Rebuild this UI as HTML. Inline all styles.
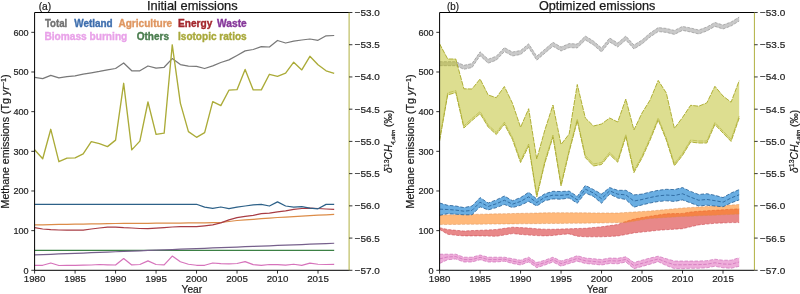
<!DOCTYPE html><html><head><meta charset="utf-8"><style>html,body{margin:0;padding:0;background:#fff;}svg{display:block;filter:blur(0.3px);}text{font-family:"Liberation Sans",sans-serif;}</style></head><body>
<svg width="800" height="294" viewBox="0 0 800 294">
<rect width="800" height="294" fill="#fff"/>
<polyline points="34.60,250.30 42.70,250.30 50.79,250.30 58.89,250.30 66.99,250.30 75.09,250.30 83.18,250.30 91.28,250.30 99.38,250.30 107.47,250.30 115.57,250.30 123.67,250.30 131.76,250.30 139.86,250.30 147.96,250.30 156.06,250.30 164.15,250.30 172.25,250.30 180.35,250.30 188.44,250.30 196.54,250.30 204.64,250.30 212.73,250.30 220.83,250.30 228.93,250.30 237.02,250.30 245.12,250.30 253.22,250.30 261.32,250.30 269.41,250.30 277.51,250.30 285.61,250.30 293.70,250.30 301.80,250.30 309.90,250.30 318.00,250.30 326.09,250.30 334.19,250.30" fill="none" stroke="#3b8044" stroke-width="1.25" stroke-linejoin="round" />
<polyline points="34.60,254.90 42.70,254.59 50.79,254.27 58.89,253.96 66.99,253.64 75.09,253.33 83.18,253.01 91.28,252.70 99.38,252.38 107.47,252.07 115.57,251.75 123.67,251.44 131.76,251.12 139.86,250.81 147.96,250.49 156.06,250.18 164.15,249.86 172.25,249.55 180.35,249.23 188.44,248.92 196.54,248.60 204.64,248.29 212.73,247.97 220.83,247.66 228.93,247.34 237.02,247.03 245.12,246.71 253.22,246.40 261.32,246.08 269.41,245.77 277.51,245.45 285.61,245.14 293.70,244.82 301.80,244.51 309.90,244.19 318.00,243.88 326.09,243.56 334.19,243.25" fill="none" stroke="#76608c" stroke-width="1.25" stroke-linejoin="round" />
<polyline points="34.60,265.25 42.70,265.25 50.79,263.00 58.89,265.50 66.99,265.30 75.09,265.30 83.18,265.20 91.28,265.00 99.38,264.50 107.47,264.80 115.57,265.00 123.67,258.60 131.76,264.90 139.86,264.50 147.96,260.90 156.06,264.50 164.15,264.90 172.25,256.10 180.35,261.75 188.44,264.25 196.54,265.25 204.64,265.25 212.73,263.00 220.83,263.60 228.93,263.80 237.02,263.50 245.12,261.70 253.22,264.70 261.32,265.30 269.41,264.50 277.51,264.70 285.61,265.10 293.70,264.25 301.80,265.30 309.90,263.20 318.00,264.25 326.09,264.50 334.19,264.40" fill="none" stroke="#d673bb" stroke-width="1.25" stroke-linejoin="round" />
<polyline points="34.60,224.90 42.70,224.76 50.79,224.62 58.89,224.48 66.99,224.34 75.09,224.20 83.18,224.06 91.28,223.92 99.38,223.78 107.47,223.64 115.57,223.50 123.67,223.44 131.76,223.38 139.86,223.32 147.96,223.26 156.06,223.20 164.15,223.14 172.25,223.08 180.35,223.02 188.44,222.96 196.54,222.90 204.64,222.77 212.73,222.63 220.83,222.50 228.93,221.50 237.02,220.50 245.12,219.90 253.22,219.30 261.32,218.70 269.41,218.10 277.51,217.50 285.61,217.04 293.70,216.59 301.80,216.13 309.90,215.67 318.00,215.21 326.09,214.76 334.19,214.30" fill="none" stroke="#dc8c48" stroke-width="1.25" stroke-linejoin="round" />
<polyline points="34.60,227.70 42.70,229.00 50.79,229.70 58.89,230.00 66.99,230.10 75.09,230.10 83.18,230.10 91.28,229.00 99.38,228.00 107.47,227.20 115.57,227.10 123.67,227.70 131.76,228.00 139.86,228.50 147.96,228.70 156.06,228.20 164.15,227.60 172.25,227.00 180.35,226.60 188.44,226.60 196.54,226.60 204.64,225.80 212.73,224.90 220.83,222.90 228.93,219.80 237.02,217.70 245.12,216.30 253.22,215.40 261.32,213.60 269.41,213.20 277.51,211.80 285.61,210.80 293.70,209.40 301.80,208.50 309.90,208.10 318.00,208.50 326.09,209.00 334.19,209.40" fill="none" stroke="#a83c44" stroke-width="1.25" stroke-linejoin="round" />
<polyline points="34.60,204.25 42.70,204.25 50.79,204.25 58.89,204.25 66.99,204.25 75.09,204.25 83.18,204.25 91.28,204.25 99.38,204.25 107.47,204.25 115.57,204.25 123.67,204.25 131.76,204.25 139.86,204.25 147.96,204.25 156.06,204.25 164.15,204.25 172.25,204.25 180.35,204.25 188.44,204.25 196.54,204.25 204.64,207.20 212.73,208.30 220.83,207.00 228.93,208.60 237.02,207.10 245.12,206.00 253.22,204.90 261.32,204.40 269.41,206.00 277.51,201.90 285.61,206.00 293.70,207.10 301.80,206.70 309.90,208.10 318.00,208.80 326.09,204.40 334.19,204.40" fill="none" stroke="#2d6188" stroke-width="1.25" stroke-linejoin="round" />
<polyline points="34.60,77.40 42.70,78.60 50.79,75.40 58.89,77.80 66.99,76.60 75.09,75.80 83.18,74.20 91.28,72.80 99.38,71.40 107.47,69.80 115.57,68.50 123.67,63.00 131.76,70.80 139.86,70.80 147.96,66.00 156.06,68.20 164.15,67.30 172.25,58.60 180.35,64.60 188.44,66.10 196.54,66.40 204.64,68.50 212.73,65.90 220.83,62.50 228.93,59.90 237.02,55.50 245.12,50.90 253.22,49.50 261.32,46.60 269.41,47.00 277.51,40.50 285.61,43.00 293.70,41.20 301.80,40.00 309.90,39.00 318.00,40.30 326.09,35.80 334.19,35.50" fill="none" stroke="#787878" stroke-width="1.25" stroke-linejoin="round" />
<polyline points="34.60,149.70 42.70,158.80 50.79,129.30 58.89,161.70 66.99,158.20 75.09,157.90 83.18,153.80 91.28,141.60 99.38,143.60 107.47,146.60 115.57,140.10 123.67,83.30 131.76,149.90 139.86,141.10 147.96,102.00 156.06,134.30 164.15,133.20 172.25,44.80 180.35,103.10 188.44,131.60 196.54,137.30 204.64,132.70 212.73,101.60 220.83,105.60 228.93,90.20 237.02,89.70 245.12,69.50 253.22,89.90 261.32,89.90 269.41,74.30 277.51,76.30 285.61,73.10 293.70,62.20 301.80,69.90 309.90,56.30 318.00,64.80 326.09,70.80 334.19,73.30" fill="none" stroke="#abab38" stroke-width="1.35" stroke-linejoin="round" />
<polygon points="439.60,254.20 447.70,254.20 455.79,254.20 463.89,257.20 471.99,257.20 480.09,255.00 488.18,257.20 496.28,257.20 504.38,257.20 512.47,258.70 520.57,260.20 528.67,257.20 536.76,262.50 544.86,260.20 552.96,257.20 561.06,261.00 569.15,258.70 577.25,255.70 585.35,258.00 593.44,258.70 601.54,259.50 609.64,258.00 617.73,258.30 625.83,256.80 633.93,262.50 642.02,260.20 650.12,258.00 658.22,256.20 666.32,258.70 674.41,261.00 682.51,261.00 690.61,261.00 698.70,261.00 706.80,260.70 714.90,259.20 723.00,260.20 731.09,260.20 739.19,257.70 739.19,266.30 731.09,268.30 723.00,267.80 714.90,266.30 706.80,267.80 698.70,268.30 690.61,268.30 682.51,268.60 674.41,268.60 666.32,265.60 658.22,261.70 650.12,264.20 642.02,266.50 633.93,268.70 625.83,262.00 617.73,263.80 609.64,263.50 601.54,265.00 593.44,264.20 585.35,263.50 577.25,261.20 569.15,263.50 561.06,266.20 552.96,262.00 544.86,265.00 536.76,267.70 528.67,262.00 520.57,265.00 512.47,263.50 504.38,261.20 496.28,262.00 488.18,262.00 480.09,259.70 471.99,262.00 463.89,262.00 455.79,259.00 447.70,259.70 439.60,263.50" fill="#e377c2" fill-opacity="0.6" stroke="none"/>
<polyline points="439.60,254.20 447.70,254.20 455.79,254.20 463.89,257.20 471.99,257.20 480.09,255.00 488.18,257.20 496.28,257.20 504.38,257.20 512.47,258.70 520.57,260.20 528.67,257.20 536.76,262.50 544.86,260.20 552.96,257.20 561.06,261.00 569.15,258.70 577.25,255.70 585.35,258.00 593.44,258.70 601.54,259.50 609.64,258.00 617.73,258.30 625.83,256.80 633.93,262.50 642.02,260.20 650.12,258.00 658.22,256.20 666.32,258.70 674.41,261.00 682.51,261.00 690.61,261.00 698.70,261.00 706.80,260.70 714.90,259.20 723.00,260.20 731.09,260.20 739.19,257.70" fill="none" stroke="#c860b0" stroke-opacity="0.75" stroke-width="0.8" stroke-dasharray="3.5,1.5"/>
<polyline points="439.60,263.50 447.70,259.70 455.79,259.00 463.89,262.00 471.99,262.00 480.09,259.70 488.18,262.00 496.28,262.00 504.38,261.20 512.47,263.50 520.57,265.00 528.67,262.00 536.76,267.70 544.86,265.00 552.96,262.00 561.06,266.20 569.15,263.50 577.25,261.20 585.35,263.50 593.44,264.20 601.54,265.00 609.64,263.50 617.73,263.80 625.83,262.00 633.93,268.70 642.02,266.50 650.12,264.20 658.22,261.70 666.32,265.60 674.41,268.60 682.51,268.60 690.61,268.30 698.70,268.30 706.80,267.80 714.90,266.30 723.00,267.80 731.09,268.30 739.19,266.30" fill="none" stroke="#c860b0" stroke-opacity="0.75" stroke-width="0.8" stroke-dasharray="3.5,1.5"/>
<polyline points="439.60,258.85 447.70,256.95 455.79,256.60 463.89,259.60 471.99,259.60 480.09,257.35 488.18,259.60 496.28,259.60 504.38,259.20 512.47,261.10 520.57,262.60 528.67,259.60 536.76,265.10 544.86,262.60 552.96,259.60 561.06,263.60 569.15,261.10 577.25,258.45 585.35,260.75 593.44,261.45 601.54,262.25 609.64,260.75 617.73,261.05 625.83,259.40 633.93,265.60 642.02,263.35 650.12,261.10 658.22,258.95 666.32,262.15 674.41,264.80 682.51,264.80 690.61,264.65 698.70,264.65 706.80,264.25 714.90,262.75 723.00,264.00 731.09,264.25 739.19,262.00" fill="none" stroke="#c860b0" stroke-opacity="0.75" stroke-width="0.8" stroke-dasharray="3.5,1.5"/>
<polygon points="439.60,227.70 447.70,229.50 455.79,230.30 463.89,231.00 471.99,230.60 480.09,230.30 488.18,229.90 496.28,229.50 504.38,228.30 512.47,227.20 520.57,227.60 528.67,228.00 536.76,228.80 544.86,229.20 552.96,229.30 561.06,229.00 569.15,228.80 577.25,228.50 585.35,228.30 593.44,227.50 601.54,226.80 609.64,225.60 617.73,224.50 625.83,221.40 633.93,219.10 642.02,217.60 650.12,216.20 658.22,215.00 666.32,213.80 674.41,213.60 682.51,213.40 690.61,212.00 698.70,211.30 706.80,210.80 714.90,210.30 723.00,209.80 731.09,209.20 739.19,208.80 739.19,222.60 731.09,222.60 723.00,223.00 714.90,223.30 706.80,224.10 698.70,224.90 690.61,226.80 682.51,228.70 674.41,229.20 666.32,229.70 658.22,230.30 650.12,231.20 642.02,232.10 633.93,232.90 625.83,234.50 617.73,236.00 609.64,236.40 601.54,236.80 593.44,236.80 585.35,236.80 577.25,236.20 569.15,233.90 561.06,234.50 552.96,235.50 544.86,235.90 536.76,235.60 528.67,235.10 520.57,234.40 512.47,233.60 504.38,235.00 496.28,236.30 488.18,236.10 480.09,235.90 471.99,235.90 463.89,235.90 455.79,235.30 447.70,234.30 439.60,229.50" fill="#d62728" fill-opacity="0.55" stroke="none"/>
<polyline points="439.60,227.70 447.70,229.50 455.79,230.30 463.89,231.00 471.99,230.60 480.09,230.30 488.18,229.90 496.28,229.50 504.38,228.30 512.47,227.20 520.57,227.60 528.67,228.00 536.76,228.80 544.86,229.20 552.96,229.30 561.06,229.00 569.15,228.80 577.25,228.50 585.35,228.30 593.44,227.50 601.54,226.80 609.64,225.60 617.73,224.50 625.83,221.40 633.93,219.10 642.02,217.60 650.12,216.20 658.22,215.00 666.32,213.80 674.41,213.60 682.51,213.40 690.61,212.00 698.70,211.30 706.80,210.80 714.90,210.30 723.00,209.80 731.09,209.20 739.19,208.80" fill="none" stroke="#c84048" stroke-opacity="0.6" stroke-width="0.9" stroke-dasharray="3,1.5"/>
<polyline points="439.60,229.50 447.70,234.30 455.79,235.30 463.89,235.90 471.99,235.90 480.09,235.90 488.18,236.10 496.28,236.30 504.38,235.00 512.47,233.60 520.57,234.40 528.67,235.10 536.76,235.60 544.86,235.90 552.96,235.50 561.06,234.50 569.15,233.90 577.25,236.20 585.35,236.80 593.44,236.80 601.54,236.80 609.64,236.40 617.73,236.00 625.83,234.50 633.93,232.90 642.02,232.10 650.12,231.20 658.22,230.30 666.32,229.70 674.41,229.20 682.51,228.70 690.61,226.80 698.70,224.90 706.80,224.10 714.90,223.30 723.00,223.00 731.09,222.60 739.19,222.60" fill="none" stroke="#c84048" stroke-opacity="0.6" stroke-width="0.9" stroke-dasharray="3,1.5"/>
<polygon points="439.60,215.00 447.70,214.84 455.79,214.67 463.89,214.51 471.99,214.34 480.09,214.18 488.18,214.01 496.28,213.85 504.38,213.69 512.47,213.52 520.57,213.36 528.67,213.19 536.76,213.03 544.86,212.86 552.96,212.70 561.06,212.74 569.15,212.77 577.25,212.81 585.35,212.85 593.44,212.89 601.54,212.93 609.64,212.96 617.73,213.00 625.83,212.50 633.93,212.00 642.02,211.50 650.12,211.00 658.22,210.25 666.32,209.50 674.41,208.75 682.51,208.00 690.61,207.50 698.70,207.00 706.80,206.50 714.90,206.00 723.00,205.50 731.09,205.00 739.19,204.50 739.19,214.10 731.09,214.44 723.00,214.79 714.90,215.13 706.80,215.47 698.70,215.81 690.61,216.16 682.51,216.50 674.41,217.00 666.32,217.50 658.22,218.00 650.12,218.50 642.02,219.83 633.93,221.17 625.83,222.50 617.73,222.67 609.64,222.83 601.54,223.00 593.44,223.08 585.35,223.16 577.25,223.24 569.15,223.32 561.06,223.40 552.96,223.48 544.86,223.56 536.76,223.64 528.67,223.72 520.57,223.80 512.47,223.88 504.38,223.96 496.28,224.04 488.18,224.12 480.09,224.20 471.99,224.28 463.89,224.36 455.79,224.44 447.70,224.52 439.60,224.60" fill="#ff7f0e" fill-opacity="0.55" stroke="none"/>
<polyline points="439.60,215.00 447.70,214.84 455.79,214.67 463.89,214.51 471.99,214.34 480.09,214.18 488.18,214.01 496.28,213.85 504.38,213.69 512.47,213.52 520.57,213.36 528.67,213.19 536.76,213.03 544.86,212.86 552.96,212.70 561.06,212.74 569.15,212.77 577.25,212.81 585.35,212.85 593.44,212.89 601.54,212.93 609.64,212.96 617.73,213.00 625.83,212.50 633.93,212.00 642.02,211.50 650.12,211.00 658.22,210.25 666.32,209.50 674.41,208.75 682.51,208.00 690.61,207.50 698.70,207.00 706.80,206.50 714.90,206.00 723.00,205.50 731.09,205.00 739.19,204.50" fill="none" stroke="#d88a50" stroke-opacity="0.5" stroke-width="0.9" stroke-dasharray="3,1.5"/>
<polyline points="439.60,224.60 447.70,224.52 455.79,224.44 463.89,224.36 471.99,224.28 480.09,224.20 488.18,224.12 496.28,224.04 504.38,223.96 512.47,223.88 520.57,223.80 528.67,223.72 536.76,223.64 544.86,223.56 552.96,223.48 561.06,223.40 569.15,223.32 577.25,223.24 585.35,223.16 593.44,223.08 601.54,223.00 609.64,222.83 617.73,222.67 625.83,222.50 633.93,221.17 642.02,219.83 650.12,218.50 658.22,218.00 666.32,217.50 674.41,217.00 682.51,216.50 690.61,216.16 698.70,215.81 706.80,215.47 714.90,215.13 723.00,214.79 731.09,214.44 739.19,214.10" fill="none" stroke="#d88a50" stroke-opacity="0.5" stroke-width="0.9" stroke-dasharray="3,1.5"/>
<polygon points="439.60,203.00 447.70,205.30 455.79,206.00 463.89,207.60 471.99,206.00 480.09,197.60 488.18,203.00 496.28,199.90 504.38,196.00 512.47,200.70 520.57,197.60 528.67,192.30 536.76,199.00 544.86,193.80 552.96,191.30 561.06,191.50 569.15,191.10 577.25,196.40 585.35,185.40 593.44,189.50 601.54,194.10 609.64,187.60 617.73,190.30 625.83,190.30 633.93,194.90 642.02,194.10 650.12,192.00 658.22,190.30 666.32,189.30 674.41,189.60 682.51,187.60 690.61,191.40 698.70,194.50 706.80,193.70 714.90,195.30 723.00,197.60 731.09,193.00 739.19,189.60 739.19,199.90 731.09,202.90 723.00,206.80 714.90,206.00 706.80,205.20 698.70,206.00 690.61,202.90 682.51,199.90 674.41,201.40 666.32,200.80 658.22,201.50 650.12,203.00 642.02,204.90 633.93,207.20 625.83,199.50 617.73,198.00 609.64,194.10 601.54,203.30 593.44,196.40 585.35,193.00 577.25,203.30 569.15,198.00 561.06,199.20 552.96,198.90 544.86,200.70 536.76,206.00 528.67,201.40 520.57,205.30 512.47,207.60 504.38,204.50 496.28,207.60 488.18,209.90 480.09,206.80 471.99,214.80 463.89,214.80 455.79,214.20 447.70,213.70 439.60,215.30" fill="#6aaee2" fill-opacity="1.0" stroke="none"/>
<polyline points="439.60,203.00 447.70,205.30 455.79,206.00 463.89,207.60 471.99,206.00 480.09,197.60 488.18,203.00 496.28,199.90 504.38,196.00 512.47,200.70 520.57,197.60 528.67,192.30 536.76,199.00 544.86,193.80 552.96,191.30 561.06,191.50 569.15,191.10 577.25,196.40 585.35,185.40 593.44,189.50 601.54,194.10 609.64,187.60 617.73,190.30 625.83,190.30 633.93,194.90 642.02,194.10 650.12,192.00 658.22,190.30 666.32,189.30 674.41,189.60 682.51,187.60 690.61,191.40 698.70,194.50 706.80,193.70 714.90,195.30 723.00,197.60 731.09,193.00 739.19,189.60" fill="none" stroke="#1f5a90" stroke-opacity="0.85" stroke-width="0.9" stroke-dasharray="3.5,1.8"/>
<polyline points="439.60,215.30 447.70,213.70 455.79,214.20 463.89,214.80 471.99,214.80 480.09,206.80 488.18,209.90 496.28,207.60 504.38,204.50 512.47,207.60 520.57,205.30 528.67,201.40 536.76,206.00 544.86,200.70 552.96,198.90 561.06,199.20 569.15,198.00 577.25,203.30 585.35,193.00 593.44,196.40 601.54,203.30 609.64,194.10 617.73,198.00 625.83,199.50 633.93,207.20 642.02,204.90 650.12,203.00 658.22,201.50 666.32,200.80 674.41,201.40 682.51,199.90 690.61,202.90 698.70,206.00 706.80,205.20 714.90,206.00 723.00,206.80 731.09,202.90 739.19,199.90" fill="none" stroke="#1f5a90" stroke-opacity="0.85" stroke-width="0.9" stroke-dasharray="3.5,1.8"/>
<polyline points="439.60,209.15 447.70,209.50 455.79,210.10 463.89,211.20 471.99,210.40 480.09,202.20 488.18,206.45 496.28,203.75 504.38,200.25 512.47,204.15 520.57,201.45 528.67,196.85 536.76,202.50 544.86,197.25 552.96,195.10 561.06,195.35 569.15,194.55 577.25,199.85 585.35,189.20 593.44,192.95 601.54,198.70 609.64,190.85 617.73,194.15 625.83,194.90 633.93,201.05 642.02,199.50 650.12,197.50 658.22,195.90 666.32,195.05 674.41,195.50 682.51,193.75 690.61,197.15 698.70,200.25 706.80,199.45 714.90,200.65 723.00,202.20 731.09,197.95 739.19,194.75" fill="none" stroke="#1f5a90" stroke-opacity="0.85" stroke-width="0.9" stroke-dasharray="3.5,1.8"/>
<polygon points="439.60,61.70 447.70,61.70 455.79,61.70 463.89,65.30 471.99,63.60 480.09,51.80 488.18,59.20 496.28,56.20 504.38,47.60 512.47,52.00 520.57,50.50 528.67,43.80 536.76,56.20 544.86,49.20 552.96,42.30 561.06,47.00 569.15,43.60 577.25,44.00 585.35,36.00 593.44,41.00 601.54,48.00 609.64,38.00 617.73,43.00 625.83,36.00 633.93,45.00 642.02,40.00 650.12,33.00 658.22,27.60 666.32,28.40 674.41,30.40 682.51,26.40 690.61,28.00 698.70,30.00 706.80,27.00 714.90,22.40 723.00,25.00 731.09,22.00 739.19,17.00 739.19,21.00 731.09,26.00 723.00,29.00 714.90,26.40 706.80,31.00 698.70,34.00 690.61,32.00 682.51,30.40 674.41,34.40 666.32,32.40 658.22,31.60 650.12,37.00 642.02,44.00 633.93,49.00 625.83,40.00 617.73,47.00 609.64,42.00 601.54,52.00 593.44,45.00 585.35,40.00 577.25,48.00 569.15,47.60 561.06,51.00 552.96,46.30 544.86,53.20 536.76,60.20 528.67,47.80 520.57,54.50 512.47,56.00 504.38,51.60 496.28,60.20 488.18,63.20 480.09,55.80 471.99,67.60 463.89,69.30 455.79,65.70 447.70,65.70 439.60,65.70" fill="#7f7f7f" fill-opacity="0.42" stroke="none"/>
<polyline points="439.60,61.70 447.70,61.70 455.79,61.70 463.89,65.30 471.99,63.60 480.09,51.80 488.18,59.20 496.28,56.20 504.38,47.60 512.47,52.00 520.57,50.50 528.67,43.80 536.76,56.20 544.86,49.20 552.96,42.30 561.06,47.00 569.15,43.60 577.25,44.00 585.35,36.00 593.44,41.00 601.54,48.00 609.64,38.00 617.73,43.00 625.83,36.00 633.93,45.00 642.02,40.00 650.12,33.00 658.22,27.60 666.32,28.40 674.41,30.40 682.51,26.40 690.61,28.00 698.70,30.00 706.80,27.00 714.90,22.40 723.00,25.00 731.09,22.00 739.19,17.00" fill="none" stroke="#7f7f7f" stroke-opacity="0.6" stroke-width="0.9" stroke-dasharray="3,1.2"/>
<polyline points="439.60,65.70 447.70,65.70 455.79,65.70 463.89,69.30 471.99,67.60 480.09,55.80 488.18,63.20 496.28,60.20 504.38,51.60 512.47,56.00 520.57,54.50 528.67,47.80 536.76,60.20 544.86,53.20 552.96,46.30 561.06,51.00 569.15,47.60 577.25,48.00 585.35,40.00 593.44,45.00 601.54,52.00 609.64,42.00 617.73,47.00 625.83,40.00 633.93,49.00 642.02,44.00 650.12,37.00 658.22,31.60 666.32,32.40 674.41,34.40 682.51,30.40 690.61,32.00 698.70,34.00 706.80,31.00 714.90,26.40 723.00,29.00 731.09,26.00 739.19,21.00" fill="none" stroke="#7f7f7f" stroke-opacity="0.6" stroke-width="0.9" stroke-dasharray="3,1.2"/>
<polygon points="439.60,43.80 447.70,59.00 455.79,59.00 463.89,88.80 471.99,89.00 480.09,79.00 488.18,95.00 496.28,97.70 504.38,86.50 512.47,103.30 520.57,127.30 528.67,108.70 536.76,159.00 544.86,130.00 552.96,105.00 561.06,144.50 569.15,134.00 577.25,84.50 585.35,118.00 593.44,126.00 601.54,124.00 609.64,118.00 617.73,122.00 625.83,99.00 633.93,130.00 642.02,113.00 650.12,100.00 658.22,80.40 666.32,93.00 674.41,128.40 682.51,117.50 690.61,105.30 698.70,106.20 706.80,102.90 714.90,86.30 723.00,96.00 731.09,102.20 739.19,80.70 739.19,118.00 731.09,141.40 723.00,133.00 714.90,124.50 706.80,143.00 698.70,143.00 690.61,142.00 682.51,155.40 674.41,165.70 666.32,140.00 658.22,120.00 650.12,140.00 642.02,158.00 633.93,172.60 625.83,136.50 617.73,162.20 609.64,154.50 601.54,164.50 593.44,166.00 585.35,157.60 577.25,121.00 569.15,152.00 561.06,186.00 552.96,137.00 544.86,163.00 536.76,197.00 528.67,146.00 520.57,162.50 512.47,139.50 504.38,124.20 496.28,134.50 488.18,127.00 480.09,113.60 471.99,120.50 463.89,128.00 455.79,92.60 447.70,94.90 439.60,141.00" fill="#bcbd22" fill-opacity="0.5" stroke="none"/>
<polyline points="439.60,43.80 447.70,59.00 455.79,59.00 463.89,88.80 471.99,89.00 480.09,79.00 488.18,95.00 496.28,97.70 504.38,86.50 512.47,103.30 520.57,127.30 528.67,108.70 536.76,159.00 544.86,130.00 552.96,105.00 561.06,144.50 569.15,134.00 577.25,84.50 585.35,118.00 593.44,126.00 601.54,124.00 609.64,118.00 617.73,122.00 625.83,99.00 633.93,130.00 642.02,113.00 650.12,100.00 658.22,80.40 666.32,93.00 674.41,128.40 682.51,117.50 690.61,105.30 698.70,106.20 706.80,102.90 714.90,86.30 723.00,96.00 731.09,102.20 739.19,80.70" fill="none" stroke="#a8a828" stroke-opacity="0.9" stroke-width="1.0" stroke-dasharray="5,1"/>
<polyline points="439.60,141.00 447.70,94.90 455.79,92.60 463.89,128.00 471.99,120.50 480.09,113.60 488.18,127.00 496.28,134.50 504.38,124.20 512.47,139.50 520.57,162.50 528.67,146.00 536.76,197.00 544.86,163.00 552.96,137.00 561.06,186.00 569.15,152.00 577.25,121.00 585.35,157.60 593.44,166.00 601.54,164.50 609.64,154.50 617.73,162.20 625.83,136.50 633.93,172.60 642.02,158.00 650.12,140.00 658.22,120.00 666.32,140.00 674.41,165.70 682.51,155.40 690.61,142.00 698.70,143.00 706.80,143.00 714.90,124.50 723.00,133.00 731.09,141.40 739.19,118.00" fill="none" stroke="#a8a828" stroke-opacity="0.9" stroke-width="1.0" stroke-dasharray="5,1"/>
<polyline points="439.60,139.00 447.70,92.90 455.79,90.60 463.89,126.00 471.99,118.50 480.09,111.60 488.18,125.00 496.28,132.50 504.38,122.20 512.47,137.50 520.57,160.50 528.67,144.00 536.76,195.00 544.86,161.00 552.96,135.00 561.06,184.00 569.15,150.00 577.25,119.00 585.35,155.60 593.44,164.00 601.54,162.50 609.64,152.50 617.73,160.20 625.83,134.50 633.93,170.60 642.02,156.00 650.12,138.00 658.22,118.00 666.32,138.00 674.41,163.70 682.51,153.40 690.61,140.00 698.70,141.00 706.80,141.00 714.90,122.50 723.00,131.00 731.09,139.40 739.19,116.00" fill="none" stroke="#a8a828" stroke-opacity="0.5" stroke-width="1.0" stroke-dasharray="5,1"/>
<line x1="34.6" y1="12.5" x2="349.1" y2="12.5" stroke="#000" stroke-width="1"/>
<line x1="34.6" y1="270.3" x2="349.1" y2="270.3" stroke="#000" stroke-width="1"/>
<line x1="34.6" y1="12.5" x2="34.6" y2="270.3" stroke="#000" stroke-width="1"/>
<line x1="349.1" y1="12.5" x2="349.1" y2="270.3" stroke="#b0b040" stroke-width="1"/>
<line x1="34.60" y1="270.3" x2="34.60" y2="273.6" stroke="#000" stroke-width="0.8"/>
<text x="34.60" y="282.4" font-size="9.9" text-anchor="middle" fill="#222" stroke="#222" stroke-width="0.2" textLength="21.6" lengthAdjust="spacingAndGlyphs">1980</text>
<line x1="75.09" y1="270.3" x2="75.09" y2="273.6" stroke="#000" stroke-width="0.8"/>
<text x="75.09" y="282.4" font-size="9.9" text-anchor="middle" fill="#222" stroke="#222" stroke-width="0.2" textLength="21.6" lengthAdjust="spacingAndGlyphs">1985</text>
<line x1="115.57" y1="270.3" x2="115.57" y2="273.6" stroke="#000" stroke-width="0.8"/>
<text x="115.57" y="282.4" font-size="9.9" text-anchor="middle" fill="#222" stroke="#222" stroke-width="0.2" textLength="21.6" lengthAdjust="spacingAndGlyphs">1990</text>
<line x1="156.06" y1="270.3" x2="156.06" y2="273.6" stroke="#000" stroke-width="0.8"/>
<text x="156.06" y="282.4" font-size="9.9" text-anchor="middle" fill="#222" stroke="#222" stroke-width="0.2" textLength="21.6" lengthAdjust="spacingAndGlyphs">1995</text>
<line x1="196.54" y1="270.3" x2="196.54" y2="273.6" stroke="#000" stroke-width="0.8"/>
<text x="196.54" y="282.4" font-size="9.9" text-anchor="middle" fill="#222" stroke="#222" stroke-width="0.2" textLength="21.6" lengthAdjust="spacingAndGlyphs">2000</text>
<line x1="237.02" y1="270.3" x2="237.02" y2="273.6" stroke="#000" stroke-width="0.8"/>
<text x="237.02" y="282.4" font-size="9.9" text-anchor="middle" fill="#222" stroke="#222" stroke-width="0.2" textLength="21.6" lengthAdjust="spacingAndGlyphs">2005</text>
<line x1="277.51" y1="270.3" x2="277.51" y2="273.6" stroke="#000" stroke-width="0.8"/>
<text x="277.51" y="282.4" font-size="9.9" text-anchor="middle" fill="#222" stroke="#222" stroke-width="0.2" textLength="21.6" lengthAdjust="spacingAndGlyphs">2010</text>
<line x1="318.00" y1="270.3" x2="318.00" y2="273.6" stroke="#000" stroke-width="0.8"/>
<text x="318.00" y="282.4" font-size="9.9" text-anchor="middle" fill="#222" stroke="#222" stroke-width="0.2" textLength="21.6" lengthAdjust="spacingAndGlyphs">2015</text>
<line x1="31.3" y1="270.30" x2="34.6" y2="270.30" stroke="#000" stroke-width="0.8"/>
<text x="28.6" y="273.60" font-size="9.3" text-anchor="end" fill="#222" stroke="#222" stroke-width="0.2" textLength="5.05" lengthAdjust="spacingAndGlyphs">0</text>
<line x1="31.3" y1="230.64" x2="34.6" y2="230.64" stroke="#000" stroke-width="0.8"/>
<text x="28.6" y="233.94" font-size="9.3" text-anchor="end" fill="#222" stroke="#222" stroke-width="0.2" textLength="15.15" lengthAdjust="spacingAndGlyphs">100</text>
<line x1="31.3" y1="190.98" x2="34.6" y2="190.98" stroke="#000" stroke-width="0.8"/>
<text x="28.6" y="194.28" font-size="9.3" text-anchor="end" fill="#222" stroke="#222" stroke-width="0.2" textLength="15.15" lengthAdjust="spacingAndGlyphs">200</text>
<line x1="31.3" y1="151.32" x2="34.6" y2="151.32" stroke="#000" stroke-width="0.8"/>
<text x="28.6" y="154.62" font-size="9.3" text-anchor="end" fill="#222" stroke="#222" stroke-width="0.2" textLength="15.15" lengthAdjust="spacingAndGlyphs">300</text>
<line x1="31.3" y1="111.65" x2="34.6" y2="111.65" stroke="#000" stroke-width="0.8"/>
<text x="28.6" y="114.95" font-size="9.3" text-anchor="end" fill="#222" stroke="#222" stroke-width="0.2" textLength="15.15" lengthAdjust="spacingAndGlyphs">400</text>
<line x1="31.3" y1="71.99" x2="34.6" y2="71.99" stroke="#000" stroke-width="0.8"/>
<text x="28.6" y="75.29" font-size="9.3" text-anchor="end" fill="#222" stroke="#222" stroke-width="0.2" textLength="15.15" lengthAdjust="spacingAndGlyphs">500</text>
<line x1="31.3" y1="32.33" x2="34.6" y2="32.33" stroke="#000" stroke-width="0.8"/>
<text x="28.6" y="35.63" font-size="9.3" text-anchor="end" fill="#222" stroke="#222" stroke-width="0.2" textLength="15.15" lengthAdjust="spacingAndGlyphs">600</text>
<line x1="349.1" y1="12.50" x2="352.40000000000003" y2="12.50" stroke="#000" stroke-width="0.8"/>
<text x="354.70000000000005" y="16.00" font-size="9.9" fill="#222" stroke="#222" stroke-width="0.2" textLength="25.2" lengthAdjust="spacingAndGlyphs">−53.0</text>
<line x1="349.1" y1="44.73" x2="352.40000000000003" y2="44.73" stroke="#000" stroke-width="0.8"/>
<text x="354.70000000000005" y="48.23" font-size="9.9" fill="#222" stroke="#222" stroke-width="0.2" textLength="25.2" lengthAdjust="spacingAndGlyphs">−53.5</text>
<line x1="349.1" y1="76.95" x2="352.40000000000003" y2="76.95" stroke="#000" stroke-width="0.8"/>
<text x="354.70000000000005" y="80.45" font-size="9.9" fill="#222" stroke="#222" stroke-width="0.2" textLength="25.2" lengthAdjust="spacingAndGlyphs">−54.0</text>
<line x1="349.1" y1="109.18" x2="352.40000000000003" y2="109.18" stroke="#000" stroke-width="0.8"/>
<text x="354.70000000000005" y="112.68" font-size="9.9" fill="#222" stroke="#222" stroke-width="0.2" textLength="25.2" lengthAdjust="spacingAndGlyphs">−54.5</text>
<line x1="349.1" y1="141.40" x2="352.40000000000003" y2="141.40" stroke="#000" stroke-width="0.8"/>
<text x="354.70000000000005" y="144.90" font-size="9.9" fill="#222" stroke="#222" stroke-width="0.2" textLength="25.2" lengthAdjust="spacingAndGlyphs">−55.0</text>
<line x1="349.1" y1="173.62" x2="352.40000000000003" y2="173.62" stroke="#000" stroke-width="0.8"/>
<text x="354.70000000000005" y="177.12" font-size="9.9" fill="#222" stroke="#222" stroke-width="0.2" textLength="25.2" lengthAdjust="spacingAndGlyphs">−55.5</text>
<line x1="349.1" y1="205.85" x2="352.40000000000003" y2="205.85" stroke="#000" stroke-width="0.8"/>
<text x="354.70000000000005" y="209.35" font-size="9.9" fill="#222" stroke="#222" stroke-width="0.2" textLength="25.2" lengthAdjust="spacingAndGlyphs">−56.0</text>
<line x1="349.1" y1="238.08" x2="352.40000000000003" y2="238.08" stroke="#000" stroke-width="0.8"/>
<text x="354.70000000000005" y="241.58" font-size="9.9" fill="#222" stroke="#222" stroke-width="0.2" textLength="25.2" lengthAdjust="spacingAndGlyphs">−56.5</text>
<line x1="349.1" y1="270.30" x2="352.40000000000003" y2="270.30" stroke="#000" stroke-width="0.8"/>
<text x="354.70000000000005" y="273.80" font-size="9.9" fill="#222" stroke="#222" stroke-width="0.2" textLength="25.2" lengthAdjust="spacingAndGlyphs">−57.0</text>
<text x="191.85" y="292.5" font-size="10.2" text-anchor="middle" fill="#1a1a1a" stroke="#1a1a1a" stroke-width="0.2">Year</text>
<text transform="translate(9.400000000000002,141.4) rotate(-90)" font-size="10.2" text-anchor="middle" fill="#1a1a1a" stroke="#1a1a1a" stroke-width="0.2" textLength="134" lengthAdjust="spacingAndGlyphs">Methane emissions (Tg <tspan font-style="italic">yr</tspan><tspan font-size="7" dy="-3.5">−1</tspan><tspan dy="3.5">)</tspan></text>
<text transform="translate(392.40000000000003,141.4) rotate(-90)" font-size="10.2" text-anchor="middle" fill="#1a1a1a" stroke="#1a1a1a" stroke-width="0.2"><tspan font-style="italic">δ</tspan><tspan font-size="7" dy="-3.5">13</tspan><tspan font-style="italic" dy="3.5">CH</tspan><tspan font-size="6" dy="2.5" font-style="italic">4,atm</tspan><tspan dy="-2.5"> (‰)</tspan></text>
<line x1="439.6" y1="12.5" x2="754.4" y2="12.5" stroke="#000" stroke-width="1"/>
<line x1="439.6" y1="270.3" x2="754.4" y2="270.3" stroke="#000" stroke-width="1"/>
<line x1="439.6" y1="12.5" x2="439.6" y2="270.3" stroke="#000" stroke-width="1"/>
<line x1="754.4" y1="12.5" x2="754.4" y2="270.3" stroke="#b0b040" stroke-width="1"/>
<line x1="439.60" y1="270.3" x2="439.60" y2="273.6" stroke="#000" stroke-width="0.8"/>
<text x="439.60" y="282.4" font-size="9.9" text-anchor="middle" fill="#222" stroke="#222" stroke-width="0.2" textLength="21.6" lengthAdjust="spacingAndGlyphs">1980</text>
<line x1="480.09" y1="270.3" x2="480.09" y2="273.6" stroke="#000" stroke-width="0.8"/>
<text x="480.09" y="282.4" font-size="9.9" text-anchor="middle" fill="#222" stroke="#222" stroke-width="0.2" textLength="21.6" lengthAdjust="spacingAndGlyphs">1985</text>
<line x1="520.57" y1="270.3" x2="520.57" y2="273.6" stroke="#000" stroke-width="0.8"/>
<text x="520.57" y="282.4" font-size="9.9" text-anchor="middle" fill="#222" stroke="#222" stroke-width="0.2" textLength="21.6" lengthAdjust="spacingAndGlyphs">1990</text>
<line x1="561.06" y1="270.3" x2="561.06" y2="273.6" stroke="#000" stroke-width="0.8"/>
<text x="561.06" y="282.4" font-size="9.9" text-anchor="middle" fill="#222" stroke="#222" stroke-width="0.2" textLength="21.6" lengthAdjust="spacingAndGlyphs">1995</text>
<line x1="601.54" y1="270.3" x2="601.54" y2="273.6" stroke="#000" stroke-width="0.8"/>
<text x="601.54" y="282.4" font-size="9.9" text-anchor="middle" fill="#222" stroke="#222" stroke-width="0.2" textLength="21.6" lengthAdjust="spacingAndGlyphs">2000</text>
<line x1="642.02" y1="270.3" x2="642.02" y2="273.6" stroke="#000" stroke-width="0.8"/>
<text x="642.02" y="282.4" font-size="9.9" text-anchor="middle" fill="#222" stroke="#222" stroke-width="0.2" textLength="21.6" lengthAdjust="spacingAndGlyphs">2005</text>
<line x1="682.51" y1="270.3" x2="682.51" y2="273.6" stroke="#000" stroke-width="0.8"/>
<text x="682.51" y="282.4" font-size="9.9" text-anchor="middle" fill="#222" stroke="#222" stroke-width="0.2" textLength="21.6" lengthAdjust="spacingAndGlyphs">2010</text>
<line x1="723.00" y1="270.3" x2="723.00" y2="273.6" stroke="#000" stroke-width="0.8"/>
<text x="723.00" y="282.4" font-size="9.9" text-anchor="middle" fill="#222" stroke="#222" stroke-width="0.2" textLength="21.6" lengthAdjust="spacingAndGlyphs">2015</text>
<line x1="436.3" y1="270.30" x2="439.6" y2="270.30" stroke="#000" stroke-width="0.8"/>
<text x="433.6" y="273.60" font-size="9.3" text-anchor="end" fill="#222" stroke="#222" stroke-width="0.2" textLength="5.05" lengthAdjust="spacingAndGlyphs">0</text>
<line x1="436.3" y1="230.64" x2="439.6" y2="230.64" stroke="#000" stroke-width="0.8"/>
<text x="433.6" y="233.94" font-size="9.3" text-anchor="end" fill="#222" stroke="#222" stroke-width="0.2" textLength="15.15" lengthAdjust="spacingAndGlyphs">100</text>
<line x1="436.3" y1="190.98" x2="439.6" y2="190.98" stroke="#000" stroke-width="0.8"/>
<text x="433.6" y="194.28" font-size="9.3" text-anchor="end" fill="#222" stroke="#222" stroke-width="0.2" textLength="15.15" lengthAdjust="spacingAndGlyphs">200</text>
<line x1="436.3" y1="151.32" x2="439.6" y2="151.32" stroke="#000" stroke-width="0.8"/>
<text x="433.6" y="154.62" font-size="9.3" text-anchor="end" fill="#222" stroke="#222" stroke-width="0.2" textLength="15.15" lengthAdjust="spacingAndGlyphs">300</text>
<line x1="436.3" y1="111.65" x2="439.6" y2="111.65" stroke="#000" stroke-width="0.8"/>
<text x="433.6" y="114.95" font-size="9.3" text-anchor="end" fill="#222" stroke="#222" stroke-width="0.2" textLength="15.15" lengthAdjust="spacingAndGlyphs">400</text>
<line x1="436.3" y1="71.99" x2="439.6" y2="71.99" stroke="#000" stroke-width="0.8"/>
<text x="433.6" y="75.29" font-size="9.3" text-anchor="end" fill="#222" stroke="#222" stroke-width="0.2" textLength="15.15" lengthAdjust="spacingAndGlyphs">500</text>
<line x1="436.3" y1="32.33" x2="439.6" y2="32.33" stroke="#000" stroke-width="0.8"/>
<text x="433.6" y="35.63" font-size="9.3" text-anchor="end" fill="#222" stroke="#222" stroke-width="0.2" textLength="15.15" lengthAdjust="spacingAndGlyphs">600</text>
<line x1="754.4" y1="12.50" x2="757.6999999999999" y2="12.50" stroke="#000" stroke-width="0.8"/>
<text x="760.0" y="16.00" font-size="9.9" fill="#222" stroke="#222" stroke-width="0.2" textLength="25.2" lengthAdjust="spacingAndGlyphs">−53.0</text>
<line x1="754.4" y1="44.73" x2="757.6999999999999" y2="44.73" stroke="#000" stroke-width="0.8"/>
<text x="760.0" y="48.23" font-size="9.9" fill="#222" stroke="#222" stroke-width="0.2" textLength="25.2" lengthAdjust="spacingAndGlyphs">−53.5</text>
<line x1="754.4" y1="76.95" x2="757.6999999999999" y2="76.95" stroke="#000" stroke-width="0.8"/>
<text x="760.0" y="80.45" font-size="9.9" fill="#222" stroke="#222" stroke-width="0.2" textLength="25.2" lengthAdjust="spacingAndGlyphs">−54.0</text>
<line x1="754.4" y1="109.18" x2="757.6999999999999" y2="109.18" stroke="#000" stroke-width="0.8"/>
<text x="760.0" y="112.68" font-size="9.9" fill="#222" stroke="#222" stroke-width="0.2" textLength="25.2" lengthAdjust="spacingAndGlyphs">−54.5</text>
<line x1="754.4" y1="141.40" x2="757.6999999999999" y2="141.40" stroke="#000" stroke-width="0.8"/>
<text x="760.0" y="144.90" font-size="9.9" fill="#222" stroke="#222" stroke-width="0.2" textLength="25.2" lengthAdjust="spacingAndGlyphs">−55.0</text>
<line x1="754.4" y1="173.62" x2="757.6999999999999" y2="173.62" stroke="#000" stroke-width="0.8"/>
<text x="760.0" y="177.12" font-size="9.9" fill="#222" stroke="#222" stroke-width="0.2" textLength="25.2" lengthAdjust="spacingAndGlyphs">−55.5</text>
<line x1="754.4" y1="205.85" x2="757.6999999999999" y2="205.85" stroke="#000" stroke-width="0.8"/>
<text x="760.0" y="209.35" font-size="9.9" fill="#222" stroke="#222" stroke-width="0.2" textLength="25.2" lengthAdjust="spacingAndGlyphs">−56.0</text>
<line x1="754.4" y1="238.08" x2="757.6999999999999" y2="238.08" stroke="#000" stroke-width="0.8"/>
<text x="760.0" y="241.58" font-size="9.9" fill="#222" stroke="#222" stroke-width="0.2" textLength="25.2" lengthAdjust="spacingAndGlyphs">−56.5</text>
<line x1="754.4" y1="270.30" x2="757.6999999999999" y2="270.30" stroke="#000" stroke-width="0.8"/>
<text x="760.0" y="273.80" font-size="9.9" fill="#222" stroke="#222" stroke-width="0.2" textLength="25.2" lengthAdjust="spacingAndGlyphs">−57.0</text>
<text x="597.00" y="292.5" font-size="10.2" text-anchor="middle" fill="#1a1a1a" stroke="#1a1a1a" stroke-width="0.2">Year</text>
<text transform="translate(414.40000000000003,141.4) rotate(-90)" font-size="10.2" text-anchor="middle" fill="#1a1a1a" stroke="#1a1a1a" stroke-width="0.2" textLength="134" lengthAdjust="spacingAndGlyphs">Methane emissions (Tg <tspan font-style="italic">yr</tspan><tspan font-size="7" dy="-3.5">−1</tspan><tspan dy="3.5">)</tspan></text>
<text transform="translate(797.6999999999999,141.4) rotate(-90)" font-size="10.2" text-anchor="middle" fill="#1a1a1a" stroke="#1a1a1a" stroke-width="0.2"><tspan font-style="italic">δ</tspan><tspan font-size="7" dy="-3.5">13</tspan><tspan font-style="italic" dy="3.5">CH</tspan><tspan font-size="6" dy="2.5" font-style="italic">4,atm</tspan><tspan dy="-2.5"> (‰)</tspan></text>
<text x="192.3" y="9.7" font-size="11.9" text-anchor="middle" fill="#1a1a1a" stroke="#1a1a1a" stroke-width="0.25" textLength="90.6" lengthAdjust="spacingAndGlyphs">Initial emissions</text>
<text x="597.2" y="9.7" font-size="11.9" text-anchor="middle" fill="#1a1a1a" stroke="#1a1a1a" stroke-width="0.25" textLength="116.5" lengthAdjust="spacingAndGlyphs">Optimized emissions</text>
<text x="38.7" y="9.7" font-size="10.6" fill="#1a1a1a" stroke="#1a1a1a" stroke-width="0.2" textLength="12.5" lengthAdjust="spacingAndGlyphs">(a)</text>
<text x="447" y="9.7" font-size="10.6" fill="#1a1a1a" stroke="#1a1a1a" stroke-width="0.2" textLength="11.9" lengthAdjust="spacingAndGlyphs">(b)</text>
<text x="44.9" y="26.5" font-size="10.0" font-weight="bold" fill="#727272" stroke="#727272" stroke-width="0.35" textLength="22.4" lengthAdjust="spacingAndGlyphs">Total</text>
<text x="74.2" y="26.5" font-size="10.0" font-weight="bold" fill="#3f6fae" stroke="#3f6fae" stroke-width="0.35" textLength="38.5" lengthAdjust="spacingAndGlyphs">Wetland</text>
<text x="118.4" y="26.5" font-size="10.0" font-weight="bold" fill="#df9660" stroke="#df9660" stroke-width="0.35" textLength="53.8" lengthAdjust="spacingAndGlyphs">Agriculture</text>
<text x="178" y="26.5" font-size="10.0" font-weight="bold" fill="#a3262c" stroke="#a3262c" stroke-width="0.35" textLength="34.3" lengthAdjust="spacingAndGlyphs">Energy</text>
<text x="217.1" y="26.5" font-size="10.0" font-weight="bold" fill="#86379a" stroke="#86379a" stroke-width="0.35" textLength="29.6" lengthAdjust="spacingAndGlyphs">Waste</text>
<text x="44.4" y="40.3" font-size="10.0" font-weight="bold" fill="#e9a2e9" stroke="#e9a2e9" stroke-width="0.35" textLength="82.9" lengthAdjust="spacingAndGlyphs">Biomass burning</text>
<text x="136.7" y="40.3" font-size="10.0" font-weight="bold" fill="#4a7d4e" stroke="#4a7d4e" stroke-width="0.35" textLength="32.3" lengthAdjust="spacingAndGlyphs">Others</text>
<text x="178" y="40.3" font-size="10.0" font-weight="bold" fill="#a9a93c" stroke="#a9a93c" stroke-width="0.35" textLength="68.7" lengthAdjust="spacingAndGlyphs">Isotopic ratios</text>
</svg></body></html>
